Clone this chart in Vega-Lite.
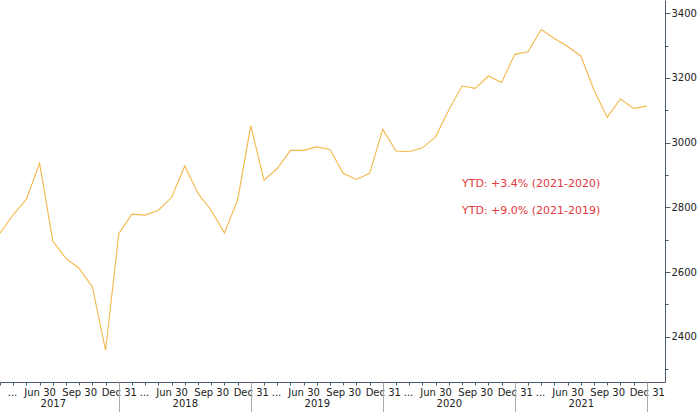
{
  "$schema": "https://vega.github.io/schema/vega-lite/v6.json",
  "width": 665,
  "height": 382,
  "autosize": {"type": "none"},
  "padding": {"left": 0, "top": 0, "right": 35, "bottom": 30},
  "background": "white",
  "config": {"view": {"stroke": null}, "font": "DejaVu Sans"},
  "datasets": {
    "series": [
      {"month": "2017-03", "value": 2720}, {"month": "2017-04", "value": 2777}, {"month": "2017-05", "value": 2825}, {"month": "2017-06", "value": 2936}, {"month": "2017-07", "value": 2696}, {"month": "2017-08", "value": 2642}, {"month": "2017-09", "value": 2611}, {"month": "2017-10", "value": 2554}, {"month": "2017-11", "value": 2358}, {"month": "2017-12", "value": 2719},
      {"month": "2018-03", "value": 2779}, {"month": "2018-04", "value": 2776}, {"month": "2018-05", "value": 2791}, {"month": "2018-06", "value": 2831}, {"month": "2018-07", "value": 2928}, {"month": "2018-08", "value": 2843}, {"month": "2018-09", "value": 2791}, {"month": "2018-10", "value": 2721}, {"month": "2018-11", "value": 2822}, {"month": "2018-12", "value": 3052},
      {"month": "2019-03", "value": 2884}, {"month": "2019-04", "value": 2920}, {"month": "2019-05", "value": 2976}, {"month": "2019-06", "value": 2976}, {"month": "2019-07", "value": 2987}, {"month": "2019-08", "value": 2979}, {"month": "2019-09", "value": 2905}, {"month": "2019-10", "value": 2886}, {"month": "2019-11", "value": 2905}, {"month": "2019-12", "value": 3041},
      {"month": "2020-03", "value": 2974}, {"month": "2020-04", "value": 2972}, {"month": "2020-05", "value": 2984}, {"month": "2020-06", "value": 3018}, {"month": "2020-07", "value": 3101}, {"month": "2020-08", "value": 3175}, {"month": "2020-09", "value": 3168}, {"month": "2020-10", "value": 3206}, {"month": "2020-11", "value": 3186}, {"month": "2020-12", "value": 3273},
      {"month": "2021-03", "value": 3281}, {"month": "2021-04", "value": 3350}, {"month": "2021-05", "value": 3322}, {"month": "2021-06", "value": 3297}, {"month": "2021-07", "value": 3268}, {"month": "2021-08", "value": 3163}, {"month": "2021-09", "value": 3078}, {"month": "2021-10", "value": 3135}, {"month": "2021-11", "value": 3106}, {"month": "2021-12", "value": 3113}
    ],
    "notes": [
      {"month": "2020-08", "value": 2872, "label": "YTD: +3.4% (2021-2020)"},
      {"month": "2020-08", "value": 2788, "label": "YTD: +9.0% (2021-2019)"}
    ]
  },
  "resolve": {"axis": {"x": "independent", "y": "independent"}},
  "layer": [
    {
      "data": {"name": "series"},
      "mark": {"type": "line", "color": "#f3b84a", "strokeWidth": 1.1},
      "encoding": {
        "x": {
          "field": "month", "type": "ordinal",
          "scale": {"type": "point", "padding": 0.69, "align": 0},
          "axis": {
            "title": null, "orient": "bottom", "labelAngle": 0, "labelOverlap": false,
            "domainColor": "#4f5d6b", "tickColor": "#4f5d6b", "tickSize": 3,
            "labelFont": "DejaVu Sans", "labelFontSize": 10, "labelColor": "#222222", "labelPadding": 2,
            "labelExpr": "substring(datum.value,5,7)=='03' ? '...' : substring(datum.value,5,7)=='06' ? 'Jun 30' : substring(datum.value,5,7)=='09' ? 'Sep 30' : substring(datum.value,5,7)=='12' ? 'Dec 31' : ''",
            "labelOffset": {"condition": {"test": "substring(datum.value,5,7)=='03'", "value": 12}, "value": 0}
          }
        },
        "y": {
          "field": "value", "type": "quantitative",
          "scale": {"domain": [2260, 3441], "nice": false, "zero": false},
          "axis": {
            "title": null, "orient": "right", "grid": false,
            "values": [2400, 2600, 2800, 3000, 3200, 3400],
            "format": "d", "labelOverlap": false,
            "domainColor": "#4f5d6b", "tickColor": "#4f5d6b", "tickSize": 5,
            "labelFont": "DejaVu Sans", "labelFontSize": 10, "labelColor": "#222222", "labelPadding": 1
          }
        }
      }
    },
    {
      "data": {"name": "series"},
      "mark": {"type": "line", "opacity": 0},
      "encoding": {
        "x": {
          "field": "month", "type": "ordinal",
          "scale": {"type": "point", "padding": 0.69, "align": 0},
          "axis": {
            "title": null, "orient": "bottom", "domain": false, "ticks": false, "labelAngle": 0,
            "values": ["2017-07", "2018-07", "2019-07", "2020-07", "2021-07"],
            "labelExpr": "substring(datum.value,0,4)",
            "labelFont": "DejaVu Sans", "labelFontSize": 10, "labelColor": "#222222", "labelPadding": 16
          }
        },
        "y": {
          "field": "value", "type": "quantitative",
          "axis": {
            "title": null, "orient": "right", "grid": false, "domain": false, "labels": false,
            "values": [2300, 2500, 2700, 2900, 3100, 3300],
            "tickColor": "#4f5d6b", "tickSize": 3
          }
        }
      }
    },
    {
      "data": {"name": "series"},
      "mark": {"type": "rule", "opacity": 0},
      "encoding": {
        "x": {
          "field": "month", "type": "ordinal",
          "scale": {"type": "point", "padding": 0.69, "align": 0},
          "axis": {
            "title": null, "orient": "bottom", "domain": false, "labels": false,
            "values": ["2017-12", "2018-12", "2019-12", "2020-12", "2021-12"],
            "tickSize": 30, "tickColor": "#a8a8a8"
          }
        }
      }
    },
    {
      "data": {"name": "notes"},
      "mark": {"type": "text", "align": "left", "baseline": "middle", "font": "DejaVu Sans", "fontSize": 11, "color": "#e0383c"},
      "encoding": {
        "x": {"field": "month", "type": "ordinal", "axis": null},
        "y": {"field": "value", "type": "quantitative", "axis": null},
        "text": {"field": "label"}
      }
    }
  ]
}
